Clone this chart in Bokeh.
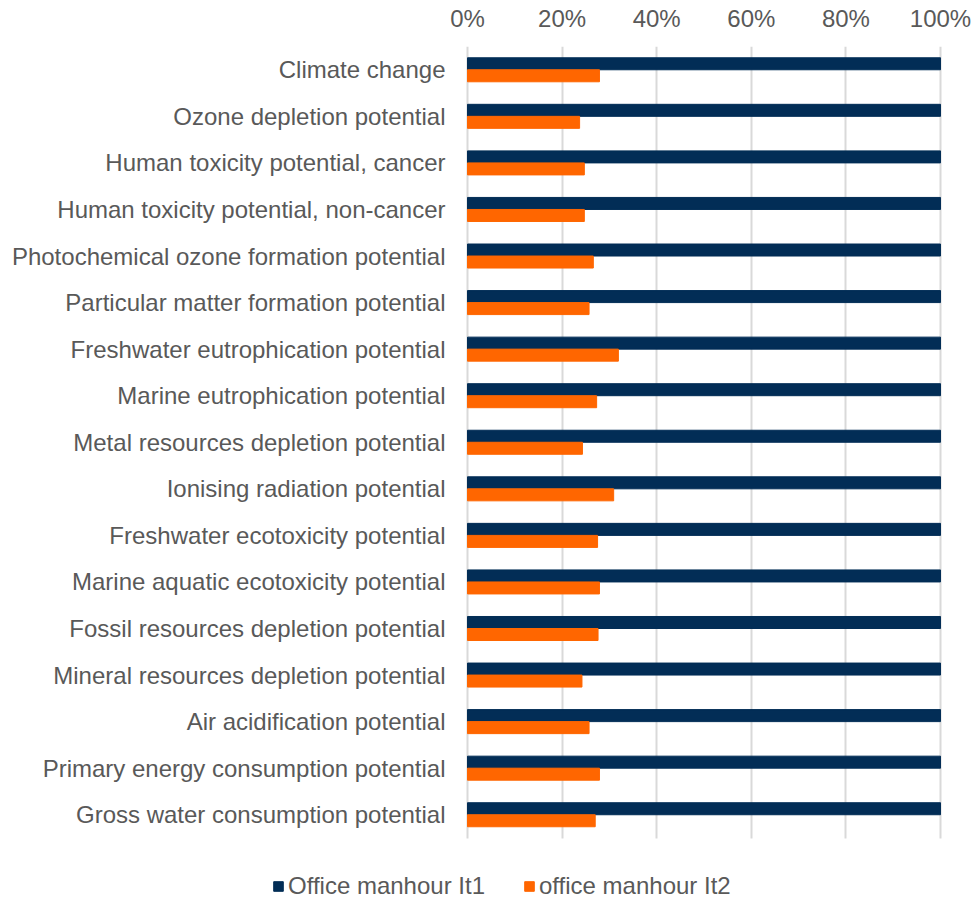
from bokeh.plotting import figure
from bokeh.models import (ColumnDataSource, Range1d, FixedTicker, Grid,
                          NumeralTickFormatter, Legend, LegendItem)
from bokeh.core.properties import value
from bokeh.transform import dodge
from bokeh.embed import file_html
from bokeh.resources import INLINE

# Impact categories, top to bottom
categories = [
    "Climate change",
    "Ozone depletion potential",
    "Human toxicity potential, cancer",
    "Human toxicity potential, non-cancer",
    "Photochemical ozone formation potential",
    "Particular matter formation potential",
    "Freshwater eutrophication potential",
    "Marine eutrophication potential",
    "Metal resources depletion potential",
    "Ionising radiation potential",
    "Freshwater ecotoxicity potential",
    "Marine aquatic ecotoxicity potential",
    "Fossil resources depletion potential",
    "Mineral resources depletion potential",
    "Air acidification potential",
    "Primary energy consumption potential",
    "Gross water consumption potential",
]

# Relative impact (share of iteration 1)
it1 = [1.0] * 17
it2 = [0.279, 0.237, 0.247, 0.247, 0.266, 0.257, 0.319, 0.273, 0.243,
       0.309, 0.275, 0.279, 0.276, 0.242, 0.257, 0.279, 0.270]

series_names = ["Office manhour It1", "office manhour It2"]
tick_values = [0, 0.2, 0.4, 0.6, 0.8, 1.0]

NAVY = "#022d56"
ORANGE = "#ff6600"
TEXT = "#595959"
FONT = "Liberation Sans"
FS = "24px"

# layout (pixels)
W, H = 973, 901
TOP = 46            # strip for the percentage axis
LEFT = 467          # where 0 % sits
PLOT_W = 473        # 0 % .. 100 %
ROW = 46.56         # height of one category row

n = len(categories)
pos = [n - 1 - i for i in range(n)]   # first category on top

source = ColumnDataSource(dict(cat=categories, pos=pos, it1=it1, it2=it2))

x_start = -LEFT / PLOT_W
x_end = 1 + (W - LEFT - PLOT_W) / PLOT_W
y_end = n - 0.5
y_start = y_end - (H - TOP) / ROW

p = figure(
    width=W, height=H,
    x_range=Range1d(x_start, x_end),
    y_range=Range1d(y_start, y_end),
    x_axis_location="above", y_axis_location=None,
    output_backend="svg", toolbar_location=None,
    min_border_left=0, min_border_right=0,
    min_border_top=TOP, min_border_bottom=0,
)
p.outline_line_color = None
p.background_fill_color = "white"
p.border_fill_color = "white"
p.grid.visible = False

# vertical gridlines limited to the category area
grid_kw = dict(dimension=0, ticker=FixedTicker(ticks=tick_values),
               grid_line_color="#d9d9d9", grid_line_width=2)
if "cross_bounds" in Grid.properties():
    p.add_layout(Grid(cross_bounds=(-0.5, n - 0.5), **grid_kw))
else:
    p.segment(x0=tick_values, x1=tick_values, y0=-0.5, y1=n - 0.5,
              line_color="#d9d9d9", line_width=2)

bh = 0.258
r1 = p.hbar(y=dodge("pos", bh / 2), right="it1", left=0,
            height=bh, color=NAVY, source=source)
r2 = p.hbar(y=dodge("pos", -bh / 2), right="it2", left=0,
            height=bh, color=ORANGE, source=source)

# category labels to the left of the bars
p.text(x=0, y="pos", text="cat", source=source, x_offset=-22,
       text_align="right", text_baseline="middle",
       text_font=value(FONT), text_font_size=FS, text_color=TEXT)

# x axis on top with percentage ticks
xa = p.xaxis[0]
xa.ticker = FixedTicker(ticks=tick_values)
xa.formatter = NumeralTickFormatter(format="0%")
xa.axis_line_color = None
xa.major_tick_line_color = None
xa.minor_tick_line_color = None
xa.major_label_text_font = FONT
xa.major_label_text_font_size = FS
xa.major_label_text_color = TEXT
xa.major_label_standoff = 9

legend = Legend(
    items=[LegendItem(label=series_names[0], renderers=[r1]),
           LegendItem(label=series_names[1], renderers=[r2])],
    orientation="horizontal",
    location=(272, 1),
    glyph_width=12, glyph_height=12,
    label_standoff=4, spacing=38, padding=0, margin=0,
    label_text_font=FONT, label_text_font_size=FS,
    label_text_color=TEXT,
    border_line_color=None, background_fill_alpha=0,
)
p.add_layout(legend, "center")

open("out.html", "w").write(file_html(p, INLINE))
